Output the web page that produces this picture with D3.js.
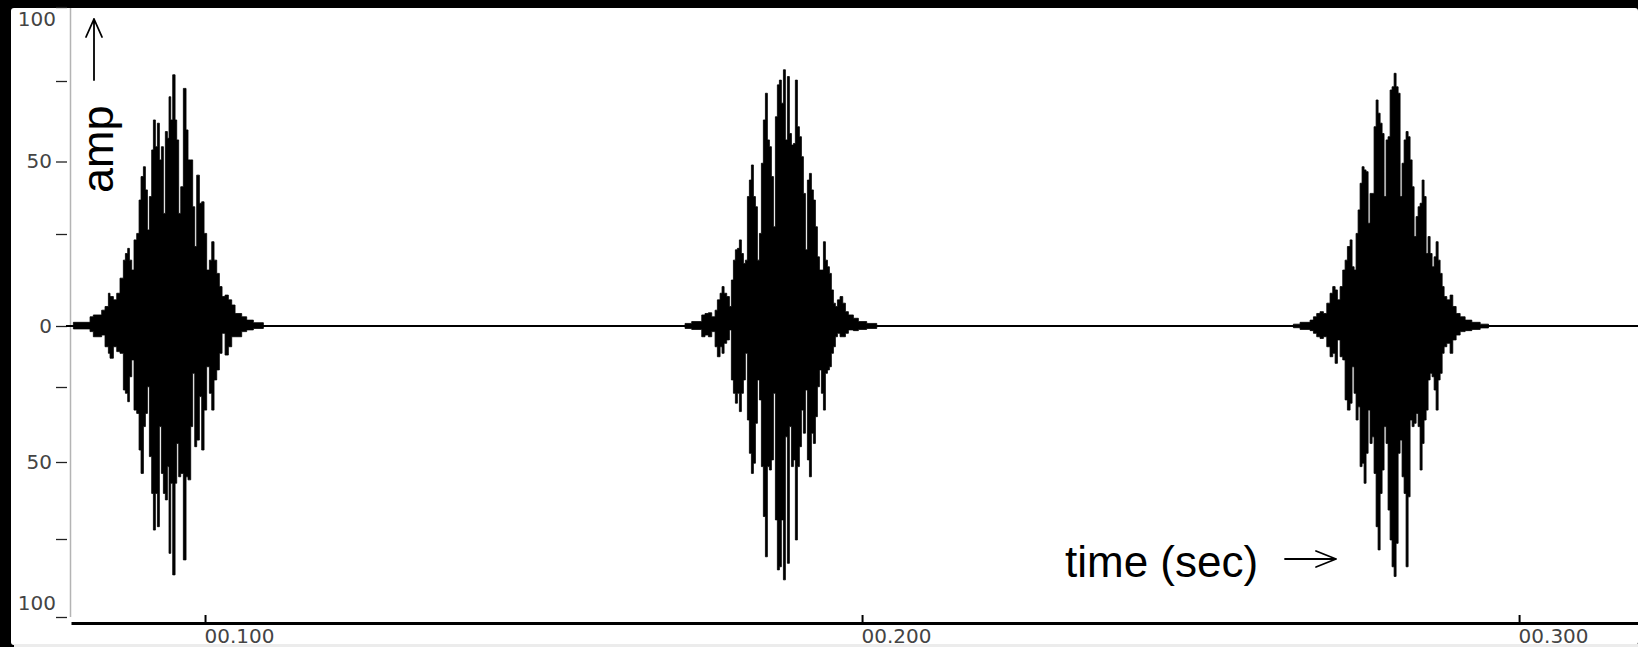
<!DOCTYPE html>
<html>
<head>
<meta charset="utf-8">
<script src="https://cdn.jsdelivr.net/npm/d3@7"></script>
<style>
  html, body { margin: 0; padding: 0; background: #000; }
  svg { display: block; }
</style>
</head>
<body>
<script>
// ---------------- data ----------------
const xDomain = [0.0796, 0.3181];            // seconds
const xTickValues = [0.1, 0.2, 0.3];
const yTickValues = [-100, -75, -50, -25, 0, 25, 50, 75, 100];
const yLabelValues = [-100, -50, 0, 50, 100];
const xTitle = "time (sec)";
const yTitle = "amp";

// each burst: [time (s), upper amplitude, lower amplitude]
const burst1 = [
  [0.07996,1.0,-1.2],[0.08250,2.5,-2.3],[0.08300,3.0,-4.4],[0.08427,4.3,-3.7],[0.08478,5.3,-8.5],
  [0.08529,8.9,-11.2],[0.08554,8.0,-13.2],[0.08605,7.1,-8.5],[0.08656,8.9,-10.5],[0.08706,13.0,-11.2],
  [0.08757,17.9,-26.0],[0.08788,19.7,-27.1],[0.08823,21.1,-29.9],[0.08849,17.9,-20.8],[0.08884,15.2,-13.9],
  [0.08919,23.4,-32.7],[0.08960,25.2,-33.8],[0.08996,36.7,-46.0],[0.09026,44.8,-53.7],[0.09062,48.2,-38.2],
  [0.09092,40.2,-33.8],[0.09123,26.4,-24.9],[0.09153,37.9,-48.2],[0.09188,53.6,-60.2],[0.09214,62.9,-72.1],
  [0.09244,54.6,-60.2],[0.09275,61.9,-71.0],[0.09305,50.5,-38.2],[0.09336,54.6,-53.7],[0.09366,32.1,-60.2],
  [0.09396,59.3,-62.3],[0.09427,57.2,-51.5],[0.09452,70.1,-79.6],[0.09478,62.9,-56.9],[0.09508,77.1,-86.5],
  [0.09544,62.9,-56.9],[0.09569,56.7,-43.8],[0.09599,32.1,-54.8],[0.09630,41.3,-53.7],[0.09670,72.7,-81.7],
  [0.09711,59.8,-54.8],[0.09741,50.5,-55.8],[0.09782,50.5,-38.2],[0.09812,34.4,-19.4],[0.09843,21.6,-44.9],
  [0.09873,45.3,-42.7],[0.09914,35.6,-28.2],[0.09949,36.1,-46.0],[0.09985,25.2,-32.7],[0.10025,15.2,-16.7],
  [0.10066,17.9,-27.1],[0.10102,22.9,-32.7],[0.10137,17.9,-22.1],[0.10178,14.3,-18.0],[0.10218,10.7,-11.2],
  [0.10259,8.0,-3.0],[0.10305,8.4,-11.9],[0.10355,7.1,-8.5],[0.10406,5.7,-4.4],[0.10457,3.4,-4.4],
  [0.10558,2.5,-2.3],[0.10634,1.6,-1.6],[0.10736,0.9,-1.0],[0.10888,0,0]
];
const burst2 = [
  [0.17306,0.7,-1.0],[0.17407,1.2,-1.4],[0.17560,3.0,-4.4],[0.17610,3.4,-3.7],[0.17661,3.6,-4.4],
  [0.17712,2.5,-2.3],[0.17763,4.3,-8.5],[0.17798,7.1,-12.6],[0.17839,8.9,-8.5],[0.17869,10.7,-11.2],
  [0.17900,8.9,-7.1],[0.17940,8.0,-5.7],[0.17981,5.3,-1.6],[0.18011,12.5,-22.1],[0.18042,17.9,-27.1],
  [0.18072,20.7,-30.4],[0.18103,21.1,-27.1],[0.18133,23.4,-33.2],[0.18163,19.7,-27.1],[0.18194,17.0,-22.1],
  [0.18224,17.9,-11.2],[0.18255,37.9,-36.0],[0.18285,43.6,-47.1],[0.18316,48.8,-53.7],[0.18346,37.9,-50.4],
  [0.18377,34.4,-37.1],[0.18407,17.9,-22.1],[0.18438,25.2,-29.3],[0.18468,49.4,-51.5],[0.18498,62.9,-67.7],
  [0.18529,71.2,-80.7],[0.18559,56.7,-51.5],[0.18590,54.6,-52.6],[0.18620,44.8,-49.3],[0.18651,27.5,-27.1],
  [0.18681,63.9,-68.8],[0.18711,73.8,-84.9],[0.18742,75.3,-83.9],[0.18772,68.1,-68.8],[0.18803,78.8,-88.1],
  [0.18833,56.7,-41.6],[0.18864,76.5,-82.8],[0.18894,58.7,-38.2],[0.18925,55.1,-51.5],[0.18955,55.6,-49.3],
  [0.18985,75.3,-75.3],[0.19016,60.8,-51.5],[0.19046,57.7,-44.9],[0.19077,51.5,-32.7],[0.19107,39.0,-40.4],
  [0.19138,20.7,-26.0],[0.19168,43.6,-49.3],[0.19199,45.9,-54.8],[0.19229,40.2,-40.4],[0.19259,36.7,-43.8],
  [0.19290,27.5,-34.9],[0.19320,18.8,-24.9],[0.19351,15.2,-18.0],[0.19381,15.2,-27.1],[0.19412,22.9,-32.7],
  [0.19442,17.9,-19.4],[0.19473,16.1,-18.0],[0.19503,14.3,-16.7],[0.19533,9.8,-11.2],[0.19564,6.2,-8.5],
  [0.19594,5.3,-4.4],[0.19625,7.1,-3.0],[0.19665,8.0,-4.4],[0.19706,6.2,-4.4],[0.19747,3.9,-3.0],
  [0.19792,3.0,-1.6],[0.19868,2.1,-1.9],[0.19944,1.2,-1.4],[0.20071,0.7,-1.0],[0.20224,0,0]
];
const burst3 = [
  [0.26565,0.5,-0.7],[0.26667,1.0,-1.4],[0.26819,1.6,-1.9],[0.26870,2.5,-3.0],[0.26920,3.4,-4.4],
  [0.26971,3.9,-5.1],[0.27022,3.4,-4.4],[0.27073,6.2,-8.5],[0.27123,8.9,-12.6],[0.27164,10.7,-11.2],
  [0.27200,9.8,-15.3],[0.27235,7.1,-5.7],[0.27276,10.7,-12.6],[0.27316,15.2,-13.9],[0.27352,17.9,-29.3],
  [0.27387,21.6,-32.7],[0.27428,23.4,-30.4],[0.27458,16.1,-16.7],[0.27489,15.2,-27.1],[0.27519,25.2,-36.0],
  [0.27550,33.3,-31.6],[0.27580,42.5,-51.5],[0.27610,48.2,-50.4],[0.27641,47.1,-56.9],[0.27671,46.5,-47.1],
  [0.27702,28.7,-32.7],[0.27732,39.0,-43.8],[0.27763,39.0,-41.6],[0.27793,60.8,-53.7],[0.27824,69.1,-71.0],
  [0.27854,65.0,-78.5],[0.27885,61.9,-60.2],[0.27915,58.7,-52.6],[0.27945,37.9,-38.2],[0.27976,56.7,-43.8],
  [0.28006,57.7,-65.6],[0.28037,72.2,-75.3],[0.28067,73.2,-83.9],[0.28098,77.6,-87.0],[0.28128,73.2,-76.4],
  [0.28159,71.2,-47.1],[0.28189,37.9,-42.7],[0.28219,49.4,-54.8],[0.28250,56.7,-60.2],[0.28280,59.3,-83.9],
  [0.28311,57.7,-61.3],[0.28341,50.5,-36.0],[0.28372,41.3,-38.2],[0.28402,24.3,-37.1],[0.28433,31.0,-33.8],
  [0.28463,34.4,-38.2],[0.28493,35.6,-52.6],[0.28524,43.6,-43.8],[0.28554,37.9,-36.0],[0.28585,19.7,-32.7],
  [0.28615,24.3,-22.1],[0.28646,19.7,-19.4],[0.28676,16.1,-20.8],[0.28707,18.8,-26.0],[0.28737,22.9,-32.7],
  [0.28768,17.9,-22.1],[0.28798,14.3,-19.4],[0.28829,10.7,-11.2],[0.28859,8.0,-8.5],[0.28900,7.1,-7.1],
  [0.28950,8.4,-11.2],[0.28991,5.3,-5.7],[0.29042,3.4,-3.7],[0.29103,2.5,-2.3],[0.29179,1.6,-1.9],
  [0.29281,1.0,-1.4],[0.29408,0.5,-0.8],[0.29535,0,0]
];
const bursts = [burst1, burst2, burst3];

// ---------------- drawing ----------------
const W = 1638, H = 647;
const svg = d3.select("body").append("svg").attr("width", W).attr("height", H);

svg.append("rect").attr("width", W).attr("height", H).attr("fill", "#000");
svg.append("rect").attr("x", 11).attr("y", 8).attr("width", W - 11).attr("height", 637)
  .attr("rx", 3).attr("fill", "#fff");
svg.append("rect").attr("x", 14).attr("y", 644).attr("width", W - 14).attr("height", 3).attr("fill", "#ececec");

const x = d3.scaleLinear().domain(xDomain).range([71, W]);
// the printed amplitude axis is not evenly spaced: piecewise-linear scale
const y = d3.scaleLinear().domain(yTickValues)
  .range([617, 539, 462, 387, 326, 234, 161.5, 81, 7]);

// grey vertical axis line
svg.append("line").attr("x1", 70.5).attr("x2", 70.5).attr("y1", 8).attr("y2", y(-100))
  .attr("stroke", "#b4b4b4").attr("stroke-width", 1.5);

// y axis ticks + labels
const yAxis = svg.append("g").attr("transform", "translate(67,0)")
  .call(d3.axisLeft(y).tickValues(yTickValues).tickSize(11).tickPadding(4)
    .tickFormat(d => yLabelValues.includes(d) ? String(Math.abs(d)) : ""));
yAxis.select(".domain").remove();
yAxis.selectAll(".tick line").attr("stroke", "#222").attr("stroke-width", 1.3);
yAxis.selectAll(".tick text")
  .attr("font-family", "'DejaVu Sans', sans-serif").attr("font-size", 20).attr("fill", "#444")
  .each(function(d) {
    const t = d3.select(this);
    if (d === 100) t.attr("dy", "0.32em").attr("y", 12).attr("x", -11);
    if (d === -100) t.attr("dy", "0.32em").attr("y", -14).attr("x", -11);
  });

// zero line
svg.append("line").attr("x1", 66).attr("x2", W).attr("y1", y(0)).attr("y2", y(0))
  .attr("stroke", "#000").attr("stroke-width", 1.8);

// waveform bursts
const area = d3.area()
  .x(d => x(d[0]))
  .y0(d => y(d[2]))
  .y1(d => y(d[1]))
  .curve(d3.curveStepAfter);
svg.append("g").selectAll("path").data(bursts).join("path")
  .attr("d", area).attr("fill", "#000").attr("stroke", "#000").attr("stroke-width", 0.8);

// x axis
const xAxis = svg.append("g").attr("transform", "translate(0,623)")
  .call(d3.axisBottom(x).tickValues(xTickValues).tickSizeInner(-8).tickSizeOuter(0).tickPadding(6)
    .tickFormat(d3.format("06.3f")));
xAxis.select(".domain").attr("stroke", "#000").attr("stroke-width", 3);
xAxis.selectAll(".tick line").attr("stroke", "#000").attr("stroke-width", 2);
xAxis.selectAll(".tick text")
  .attr("text-anchor", "start").attr("x", -1)
  .attr("font-family", "'DejaVu Sans', sans-serif").attr("font-size", 20).attr("fill", "#444");

// titles
svg.append("text").attr("x", 1065).attr("y", 577)
  .attr("font-family", "'Liberation Sans', Arial, sans-serif").attr("font-size", 44).attr("fill", "#000")
  .text(xTitle);
svg.append("text").attr("transform", "translate(113,193) rotate(-90)")
  .attr("font-family", "'Liberation Sans', Arial, sans-serif").attr("font-size", 45).attr("fill", "#000")
  .text(yTitle);

// arrows
const arrowStyle = s => s.attr("fill", "none").attr("stroke", "#000").attr("stroke-width", 1.8)
  .attr("stroke-linecap", "round").attr("stroke-linejoin", "round");
svg.append("path").attr("d", "M94,80V19 M86,37 L94,19 L102,37").call(arrowStyle);
svg.append("path").attr("d", "M1285,559H1336 M1316,551 L1336,559 L1316,567").call(arrowStyle);
</script>
</body>
</html>
